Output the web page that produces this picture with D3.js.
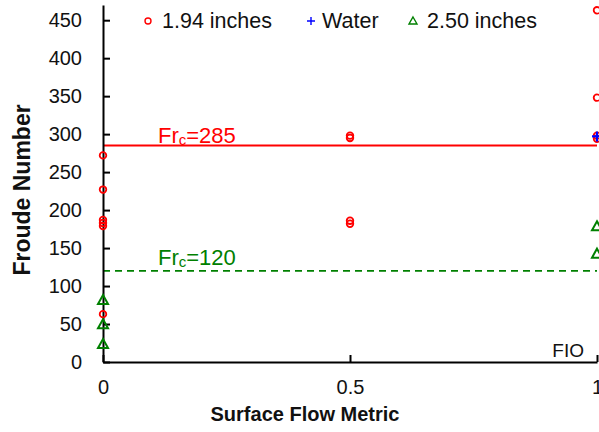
<!DOCTYPE html>
<html>
<head>
<meta charset="utf-8">
<script src="https://cdn.jsdelivr.net/npm/d3@7"></script>
<style>
  html, body { margin: 0; padding: 0; background: #fff; }
  svg { display: block; font-family: "Liberation Sans", Arial, sans-serif; }
</style>
</head>
<body>
<svg id="chart" width="599" height="432"></svg>
<script>
// Froude number against surface flow metric, three test series
const xTicks = [0, 0.5, 1];
const xTickLabels = ["0", "0.5", "1"];
const yTicks = [0, 50, 100, 150, 200, 250, 300, 350, 400, 450];

const smallX = [0, 0, 0, 0, 0, 0, 0.5, 0.5, 0.5, 0.5, 1, 1, 1, 1];
const smallY = [272, 227, 187, 183, 179, 63, 298, 295, 186, 182, 463, 348, 298, 294];

const waterX = [1];
const waterY = [297];

const largeX = [0, 0, 0, 1, 1];
const largeY = [81, 49, 23, 178, 142];

const criticalSmall = 285;
const criticalLarge = 120;

const svg = d3.select("#chart");
const margin = { left: 103, right: 2, top: 5, bottom: 70 };
const W = 599, H = 432;
const FONT = "Liberation Sans, Arial, sans-serif";

const x = d3.scaleLinear().domain([0, 1]).range([margin.left, W - margin.right]);
const y = d3.scaleLinear().domain([0, 470]).range([H - margin.bottom, margin.top]);

// critical Froude lines
svg.append("line")
  .attr("x1", x(0)).attr("x2", x(1))
  .attr("y1", y(criticalSmall)).attr("y2", y(criticalSmall))
  .attr("stroke", "#ff0000").attr("stroke-width", 1.8);
svg.append("line")
  .attr("x1", x(0)).attr("x2", x(1))
  .attr("y1", y(criticalLarge)).attr("y2", y(criticalLarge))
  .attr("stroke", "#008000").attr("stroke-width", 1.6)
  .attr("stroke-dasharray", "7,5");

function frLabel(value, color, ypos) {
  const t = svg.append("text")
    .attr("x", 158).attr("y", ypos)
    .attr("fill", color).attr("font-size", 22);
  t.append("tspan").text("Fr");
  t.append("tspan").attr("font-size", 15).attr("dy", 2).text("c");
  t.append("tspan").attr("dy", -2).text("=" + value);
}
frLabel(criticalSmall, "#ff0000", y(criticalSmall) - 3);
frLabel(criticalLarge, "#008000", y(criticalLarge) - 6);

// axes
const yAxis = d3.axisLeft(y).tickValues(yTicks).tickSizeInner(-7).tickSizeOuter(0).tickPadding(21);
const gy = svg.append("g").attr("transform", `translate(${x(0)},0)`).call(yAxis);
gy.select(".domain").attr("stroke", "#000").attr("stroke-width", 2);
gy.selectAll(".tick line").attr("stroke", "#000").attr("stroke-width", 2);
gy.selectAll(".tick text").attr("font-size", 20).attr("fill", "#111").attr("font-family", FONT);

const xAxis = d3.axisBottom(x).tickValues(xTicks).tickFormat((d, i) => xTickLabels[i])
  .tickSizeInner(-7).tickSizeOuter(0).tickPadding(18);
const gx = svg.append("g").attr("transform", `translate(0,${y(0)})`).call(xAxis);
gx.select(".domain").attr("stroke", "#000").attr("stroke-width", 2);
gx.selectAll(".tick line").attr("stroke", "#000").attr("stroke-width", 2);
gx.selectAll(".tick text").attr("font-size", 20).attr("fill", "#111").attr("font-family", FONT);

// axis titles
svg.append("text")
  .attr("x", 305).attr("y", 421)
  .attr("text-anchor", "middle").attr("font-size", 20).attr("font-weight", "bold")
  .attr("fill", "#111").text("Surface Flow Metric");
svg.append("text")
  .attr("transform", "translate(30,190) rotate(-90)")
  .attr("text-anchor", "middle").attr("font-size", 23).attr("font-weight", "bold")
  .attr("fill", "#111").text("Froude Number");

svg.append("text")
  .attr("x", 584).attr("y", 357)
  .attr("text-anchor", "end").attr("font-size", 19).attr("fill", "#111").text("FIO");

// markers
const triPath = "M0,-5.5L5,3.5L-5,3.5Z";
svg.append("g").selectAll("circle").data(smallX).join("circle")
  .attr("cx", d => x(d)).attr("cy", (d, i) => y(smallY[i])).attr("r", 3.3)
  .attr("fill", "none").attr("stroke", "#ff0000").attr("stroke-width", 1.8);
svg.append("g").selectAll("path").data(largeX).join("path")
  .attr("transform", (d, i) => `translate(${x(d)},${y(largeY[i])})`)
  .attr("d", triPath)
  .attr("fill", "none").attr("stroke", "#008000").attr("stroke-width", 2);
svg.append("g").selectAll("path").data(waterX).join("path")
  .attr("transform", (d, i) => `translate(${x(d)},${y(waterY[i])})`)
  .attr("d", "M-5,0H5M0,-5V5")
  .attr("stroke", "#0000ff").attr("stroke-width", 2.2);

// legend
const leg = svg.append("g");
leg.append("circle").attr("cx", 148).attr("cy", 21).attr("r", 3)
  .attr("fill", "none").attr("stroke", "#ff0000").attr("stroke-width", 1.4);
leg.append("text").attr("x", 162).attr("y", 28).attr("font-size", 21.5).attr("fill", "#111").text("1.94 inches");
leg.append("path").attr("transform", "translate(311,21)").attr("d", "M-4,0H4M0,-4V4")
  .attr("stroke", "#0000ff").attr("stroke-width", 1.4);
leg.append("text").attr("x", 322).attr("y", 28).attr("font-size", 21.5).attr("fill", "#111").text("Water");
leg.append("path").attr("transform", "translate(413,21)").attr("d", "M0,-4L4,3L-4,3Z")
  .attr("fill", "none").attr("stroke", "#008000").attr("stroke-width", 1.4);
leg.append("text").attr("x", 427).attr("y", 28).attr("font-size", 21.5).attr("fill", "#111").text("2.50 inches");
</script>
</body>
</html>
